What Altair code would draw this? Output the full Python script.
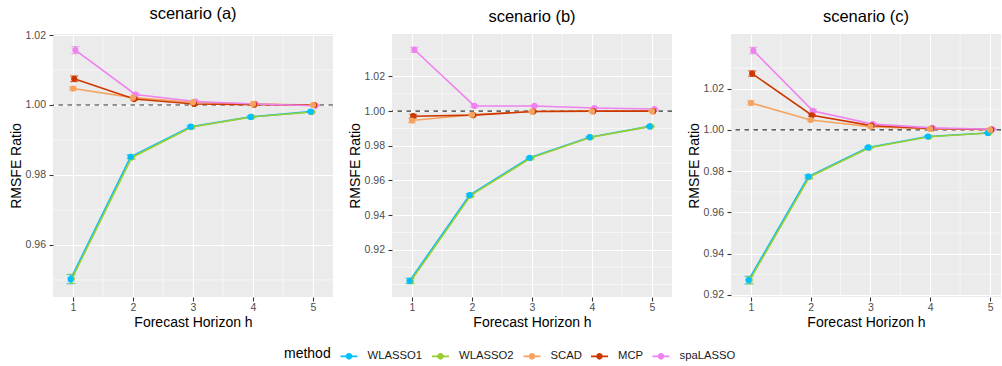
import altair as alt
import pandas as pd

methods = ["WLASSO1", "WLASSO2", "SCAD", "MCP", "spaLASSO"]
colors = ["#00BFFF", "#9ACD32", "#F4A460", "#CD3700", "#EE82EE"]
draw_rank = [1, 0, 4, 3, 2]
horizons = [1, 2, 3, 4, 5]
dodge = [-0.04, -0.02, 0.0, 0.02, 0.04]

# scenario (a)
a_WLASSO1 = [0.9502, 0.9852, 0.9938, 0.9966, 0.9981]
a_WLASSO2 = [0.9503, 0.9850, 0.9937, 0.9966, 0.9980]
a_SCAD = [1.0047, 1.0021, 1.0008, 1.0003, 1.0000]
a_MCP = [1.0075, 1.0017, 1.0003, 1.0001, 1.0000]
a_spaLASSO = [1.0157, 1.0030, 1.0010, 1.0003, 0.9998]
a_err_WLASSO1 = [0.0013, 0.0005, 0.0003, 0.0002, 0.0002]
a_err_WLASSO2 = [0.0013, 0.0005, 0.0003, 0.0002, 0.0002]
a_err_SCAD = [0.0005, 0.0003, 0.0002, 0.0001, 0.0001]
a_err_MCP = [0.0008, 0.0003, 0.0002, 0.0001, 0.0001]
a_err_spaLASSO = [0.0010, 0.0004, 0.0002, 0.0001, 0.0001]

# scenario (b)
b_WLASSO1 = [0.9021, 0.9516, 0.9731, 0.9850, 0.9912]
b_WLASSO2 = [0.9020, 0.9514, 0.9730, 0.9849, 0.9912]
b_SCAD = [0.9946, 0.9979, 0.9998, 0.9999, 1.0000]
b_MCP = [0.9971, 0.9977, 0.9998, 1.0000, 1.0000]
b_spaLASSO = [1.0354, 1.0030, 1.0030, 1.0018, 1.0012]
b_err_WLASSO1 = [0.0015, 0.0008, 0.0005, 0.0004, 0.0003]
b_err_WLASSO2 = [0.0015, 0.0008, 0.0005, 0.0004, 0.0003]
b_err_SCAD = [0.0012, 0.0004, 0.0002, 0.0001, 0.0001]
b_err_MCP = [0.0010, 0.0004, 0.0002, 0.0001, 0.0001]
b_err_spaLASSO = [0.0015, 0.0006, 0.0004, 0.0002, 0.0002]

# scenario (c)
c_WLASSO1 = [0.9272, 0.9774, 0.9915, 0.9968, 0.9985]
c_WLASSO2 = [0.9272, 0.9772, 0.9914, 0.9967, 0.9985]
c_SCAD = [1.0131, 1.0048, 1.0016, 1.0005, 1.0001]
c_MCP = [1.0273, 1.0071, 1.0021, 1.0007, 1.0002]
c_spaLASSO = [1.0385, 1.0092, 1.0028, 1.0010, 1.0003]
c_err_WLASSO1 = [0.0018, 0.0008, 0.0004, 0.0003, 0.0002]
c_err_WLASSO2 = [0.0018, 0.0008, 0.0004, 0.0003, 0.0002]
c_err_SCAD = [0.0009, 0.0005, 0.0002, 0.0001, 0.0001]
c_err_MCP = [0.0013, 0.0005, 0.0002, 0.0001, 0.0001]
c_err_spaLASSO = [0.0015, 0.0006, 0.0003, 0.0002, 0.0001]

x_major = [1, 2, 3, 4, 5]
x_minor = [1.5, 2.5, 3.5, 4.5]
a_y_major = [0.96, 0.98, 1.00, 1.02]
a_y_minor = [0.95, 0.97, 0.99, 1.01]
bc_y_major = [0.92, 0.94, 0.96, 0.98, 1.00, 1.02]
b_y_minor = [0.90, 0.91, 0.93, 0.95, 0.97, 0.99, 1.01, 1.03]
c_y_minor = [0.93, 0.95, 0.97, 0.99, 1.01, 1.03]

FONT = "Liberation Sans"
KEY_PATH = ("M-0.85,-0.08L0.85,-0.08L0.85,0.08L-0.85,0.08Z "
            "M0.33,0A0.33,0.33,0,1,1,-0.33,0A0.33,0.33,0,1,1,0.33,0Z")


def build_df(vals, errs):
    rows = []
    for mi, m in enumerate(methods):
        for h, v, e in zip(horizons, vals[mi], errs[mi]):
            rows.append({"method": m, "z": draw_rank[mi], "h": h,
                         "hd": h + dodge[mi], "value": v, "lo": v - e, "hi": v + e})
    return pd.DataFrame(rows)


legend = alt.Legend(
    orient="none", direction="horizontal", titleOrient="left",
    legendX=231, legendY=312, symbolType=KEY_PATH,
    symbolSize=400, symbolStrokeWidth=0, symbolOpacity=1,
    labelFontSize=11.3, labelFont=FONT, labelColor="#1A1A1A", labelOffset=8.5,
    title="method", titleFontSize=14, titleFont=FONT, titleFontWeight="normal",
    titleColor="#000000", titlePadding=8, columnPadding=7.5,
)
cscale = alt.Scale(domain=methods, range=colors)


def panel(df, title, ydom, ymaj, ymin, xdom, width):
    xs = alt.Scale(domain=xdom, nice=False, zero=False)
    ys = alt.Scale(domain=ydom, nice=False, zero=False)
    xaxis = alt.Axis(values=x_major, format="d", title="Forecast Horizon h")
    yaxis = alt.Axis(values=ymaj, format=".2f", title="RMSFE Ratio")
    col = alt.Color("method:N", scale=cscale, legend=legend)
    X = alt.X("hd:Q", scale=xs, axis=xaxis)
    base = alt.Chart(df)
    anchor = base.mark_circle(opacity=0).encode(
        x=X, y=alt.Y("value:Q", scale=ys, axis=yaxis), color=col,
    )
    gx = alt.Chart(pd.DataFrame({"v": x_minor})).mark_rule(
        color="white", strokeWidth=0.55).encode(x=alt.X("v:Q", scale=xs, axis=xaxis))
    gy = alt.Chart(pd.DataFrame({"v": ymin})).mark_rule(
        color="white", strokeWidth=0.55).encode(y=alt.Y("v:Q", scale=ys, axis=yaxis))
    dash = alt.Chart(pd.DataFrame({"v": [1.0]})).mark_rule(
        color="#333333", strokeWidth=1.1, strokeDash=[4.5, 4.5]).encode(
        y=alt.Y("v:Q", scale=ys, axis=yaxis))
    lines = base.mark_line(strokeWidth=1.6).encode(
        x=X, y=alt.Y("value:Q", scale=ys, axis=yaxis), color=col, order="h:Q",
    )
    err = base.mark_rule(strokeWidth=1.2).encode(
        x=X, y=alt.Y("lo:Q", scale=ys, axis=yaxis), y2="hi:Q", color=col,
    )
    cap_lo = base.mark_tick(orient="horizontal", size=8, thickness=1.2).encode(
        x=X, y=alt.Y("lo:Q", scale=ys, axis=yaxis), color=col,
    )
    cap_hi = base.mark_tick(orient="horizontal", size=8, thickness=1.2).encode(
        x=X, y=alt.Y("hi:Q", scale=ys, axis=yaxis), color=col,
    )
    pts = base.mark_circle(size=38, opacity=1).encode(
        x=X, y=alt.Y("value:Q", scale=ys, axis=yaxis), color=col, order=alt.Order("z:Q"),
    )
    return alt.layer(anchor, gx, gy, dash, lines, err, cap_lo, cap_hi, pts).properties(
        width=width, height=263,
        title=alt.TitleParams(title, fontSize=16.5, font=FONT, fontWeight="normal",
                              anchor="middle", frame="group", baseline="bottom",
                              offset=-8, color="#000000"),
    )


df_a = build_df([a_WLASSO1, a_WLASSO2, a_SCAD, a_MCP, a_spaLASSO],
                [a_err_WLASSO1, a_err_WLASSO2, a_err_SCAD, a_err_MCP, a_err_spaLASSO])
df_b = build_df([b_WLASSO1, b_WLASSO2, b_SCAD, b_MCP, b_spaLASSO],
                [b_err_WLASSO1, b_err_WLASSO2, b_err_SCAD, b_err_MCP, b_err_spaLASSO])
df_c = build_df([c_WLASSO1, c_WLASSO2, c_SCAD, c_MCP, c_spaLASSO],
                [c_err_WLASSO1, c_err_WLASSO2, c_err_SCAD, c_err_MCP, c_err_spaLASSO])

pa = panel(df_a, "scenario (a)", [0.9451, 1.0203], a_y_major, a_y_minor, [0.667, 5.333], 280)
pb = panel(df_b, "scenario (b)", [0.8928, 1.0445], bc_y_major, b_y_minor, [0.667, 5.333], 280)
pc = panel(df_c, "scenario (c)", [0.919, 1.0465], bc_y_major, c_y_minor, [0.667, 5.183], 270)

chart = alt.hconcat(pa, pb, pc, spacing=14).properties(
    padding={"left": 9, "top": 5, "right": 0, "bottom": 0},
).configure_view(fill="#EBEBEB", stroke=None).configure_axis(
    grid=True, gridColor="#FFFFFF", gridWidth=1.1, domain=False,
    tickColor="#333333", tickSize=4, tickWidth=1.1,
    labelColor="#4D4D4D", labelFont=FONT, labelFontSize=10.5,
    titleFont=FONT, titleFontSize=14, titleFontWeight="normal", titleColor="#000000",
).configure_axisX(labelPadding=1, titlePadding=3).configure_axisY(
    labelPadding=3.5, titlePadding=2)

chart.save("out.html", embed_options={"renderer": "svg", "actions": False})
